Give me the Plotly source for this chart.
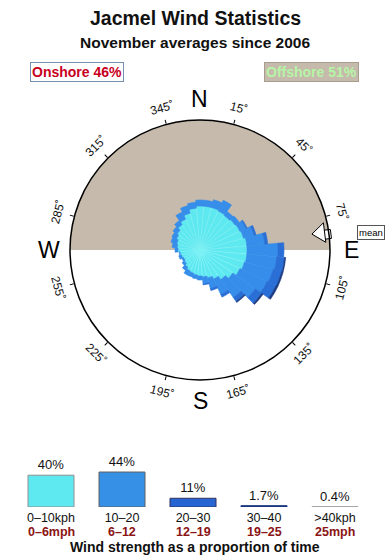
import math
import plotly.graph_objects as go

# ---------------- data ----------------
directions = [0, 10, 20, 30, 40, 50, 60, 70, 80, 90, 100, 110, 120, 130, 140, 150, 160, 170,
              180, 190, 200, 210, 220, 230, 240, 250, 260, 270, 280, 290, 300, 310, 320, 330, 340, 350]
# stacked rose bands (scaled frequency, full circle = 130)
band_0_10 = [44, 44, 44, 43, 42, 43, 44, 45, 47, 47, 47, 46, 44, 40, 36, 32, 29, 27,
             26, 25, 24, 23, 21, 19, 18, 19, 20, 22, 23, 24, 26, 28, 31, 34, 38, 42]
band_10_20 = [6, 6, 8, 12, 5, 5, 7, 11, 18, 31, 30, 29.5, 30, 27.5, 22, 17, 11, 7,
              4, 4, 4, 5, 4, 3, 2, 3, 1, 3, 5, 6, 5, 5, 5, 8, 8, 6]
band_20_30 = [0, 0, 0, 0, 0, 0, 1, 2, 3, 6, 8, 9, 10, 8, 5, 3, 2, 1,
              0, 0, 0, 0, 0, 0, 0, 0, 0, 0, 0, 0, 0, 0, 0, 0, 0, 0]
band_30_40 = [0, 0, 0, 0, 0, 0, 0, 0, 0, 0, 1, 1.5, 2, 1.5, 1, 0, 0, 0,
              0, 0, 0, 0, 0, 0, 0, 0, 0, 0, 0, 0, 0, 0, 0, 0, 0, 0]
rose_max = 130
mean_direction = 82

tick_angles = [15, 45, 75, 105, 135, 165, 195, 225, 255, 285, 315, 345]
compass = [("N", 0), ("E", 90), ("S", 180), ("W", 270)]

onshore_pct = 46
offshore_pct = 51

speed_bins = ["0–10kph", "10–20", "20–30", "30–40", ">40kph"]
speed_mph = ["0–6mph", "6–12", "12–19", "19–25", "25mph"]
speed_pct = [40, 44, 11, 1.7, 0.4]
speed_pct_text = ["40%", "44%", "11%", "1.7%", "0.4%"]

# ---------------- styling ----------------
W, H = 390, 560
FONT = "Liberation Sans, Arial, sans-serif"
c_cyan = "#5ee8f0"
c_blue = "#368eea"
c_dark = "#2a6fd6"
c_navy = "#1c3a80"
c_gray = "#c5baab"
c_red = "#8b1414"

cx, cy, R = 200, 250, 130  # circle geometry in pixels
polar_domain = dict(x=[(cx - R) / W, (cx + R) / W], y=[1 - (cy + R) / H, 1 - (cy - R) / H])

fig = go.Figure()

# offshore half (north half) on the underlying polar subplot
fig.add_trace(go.Barpolar(theta=[0], r=[rose_max], width=[180], subplot="polar",
                          marker=dict(color=c_gray, line=dict(width=0)),
                          hoverinfo="skip", showlegend=False))

for vals, col, lc in [(band_0_10, c_cyan, "#82f3f7"), (band_10_20, c_blue, c_blue),
                      (band_20_30, c_dark, c_dark), (band_30_40, c_navy, c_navy)]:
    fig.add_trace(go.Barpolar(theta=directions, r=vals, width=[10] * len(directions),
                              subplot="polar2",
                              marker=dict(color=col, line=dict(color=lc, width=0.6)),
                              showlegend=False))

# mean arrow: shaft then head
fig.add_trace(go.Scatterpolar(theta=[mean_direction + 1], r=[rose_max * 0.98], mode="markers",
                              subplot="polar2",
                              marker=dict(symbol="square", size=9, angle=-7,
                                          color="white", line=dict(color="black", width=1)),
                              showlegend=False, hoverinfo="skip"))
fig.add_trace(go.Scatterpolar(theta=[mean_direction], r=[rose_max * 0.935], mode="markers",
                              subplot="polar2",
                              marker=dict(symbol="triangle-left", size=17, angle=-7,
                                          color="white", line=dict(color="black", width=1)),
                              showlegend=False, hoverinfo="skip"))

# speed legend as bar chart
fig.add_trace(go.Bar(x=list(range(len(speed_bins))), y=speed_pct, width=0.648,
                     marker=dict(color=[c_cyan, "#3590e6", "#2766d2", c_navy, "#a0a0a0"],
                                 line=dict(color=["#909090", "#606060", "#303060", c_navy, "#a0a0a0"],
                                           width=1)),
                     text=speed_pct_text, textposition="outside", cliponaxis=False,
                     textfont=dict(size=13, color="#111", family=FONT),
                     xaxis="x", yaxis="y", showlegend=False))


def ann(x, y, text, size, color="#111", **kw):
    d = dict(x=x, y=y, xref="paper", yref="paper", text=text, showarrow=False,
             xanchor="center", yanchor="middle",
             font=dict(size=size, color=color, family=FONT))
    d.update(kw)
    return d


annotations = []
# degree tick labels, tangential
for a in tick_angles:
    rl = R + 17
    px = cx + rl * math.sin(math.radians(a))
    py = cy - rl * math.cos(math.radians(a))
    ang = a % 180
    if ang > 90:
        ang -= 180
    annotations.append(ann(px / W, 1 - py / H, f"{a}˚", 12, textangle=ang))
for lab, a in compass:
    rl = R + 21
    px = cx + rl * math.sin(math.radians(a))
    py = cy - rl * math.cos(math.radians(a))
    annotations.append(ann(px / W, 1 - py / H, lab, 23, "#000"))

annotations += [
    ann(0.5, 1 - 18 / H, "<b>Jacmel Wind Statistics</b>", 19.5),
    ann(0.5, 1 - 43 / H, "<b>November averages since 2006</b>", 15.5),
    ann(77 / W, 1 - 72 / H, f"<b>Onshore {onshore_pct}%</b>", 14, "#c8001e",
        bgcolor="white", bordercolor="#7890b0", borderwidth=1, borderpad=1),
    ann(311 / W, 1 - 72 / H, f"<b>Offshore {offshore_pct}%</b>", 14, "#b6f5a6",
        bgcolor=c_gray, bordercolor="#a89c8c", borderwidth=1, borderpad=1),
    ann(371 / W, 1 - 232 / H, "mean", 9.5, "#000",
        bgcolor="white", bordercolor="#555", borderwidth=1, borderpad=1),
    ann(0.5, 1 - 547 / H, "<b>Wind strength as a proportion of time</b>", 14),
]
# mph labels under each speed bin
for i, m in enumerate(speed_mph):
    annotations.append(dict(x=i, y=1 - 532 / H, xref="x", yref="paper", text=f"<b>{m}</b>",
                            showarrow=False, xanchor="center", yanchor="middle",
                            font=dict(size=12.5, color=c_red, family=FONT)))

angular_common = dict(rotation=90, direction="clockwise", showgrid=False)

fig.update_layout(
    width=W, height=H, margin=dict(l=0, r=0, t=0, b=0),
    paper_bgcolor="white", plot_bgcolor="white",
    font=dict(family=FONT),
    polar=dict(
        domain=polar_domain, bgcolor="white", hole=0,
        radialaxis=dict(range=[0, rose_max], visible=False),
        angularaxis=dict(**angular_common, showticklabels=False, ticks="", showline=False),
    ),
    polar2=dict(
        domain=polar_domain, bgcolor="rgba(0,0,0,0)", hole=0, barmode="stack",
        radialaxis=dict(range=[0, rose_max], visible=False),
        angularaxis=dict(**angular_common, tickmode="array", tickvals=tick_angles,
                         ticks="outside", ticklen=4, tickcolor="#000",
                         showticklabels=False, showline=True,
                         linecolor="#000", linewidth=1.5),
    ),
    xaxis=dict(domain=[15.5 / W, 370.5 / W], range=[-0.5, 4.5], tickmode="array",
               tickvals=list(range(len(speed_bins))), ticktext=speed_bins,
               tickfont=dict(size=12.5, color="#111", family=FONT), ticklabelstandoff=1,
               showgrid=False, zeroline=False, showline=False, ticks=""),
    yaxis=dict(domain=[53 / H, (53 + 50 * 0.795) / H], range=[0, 50], visible=False,
               showgrid=False),
    annotations=annotations,
)

fig.write_html("out.html")
